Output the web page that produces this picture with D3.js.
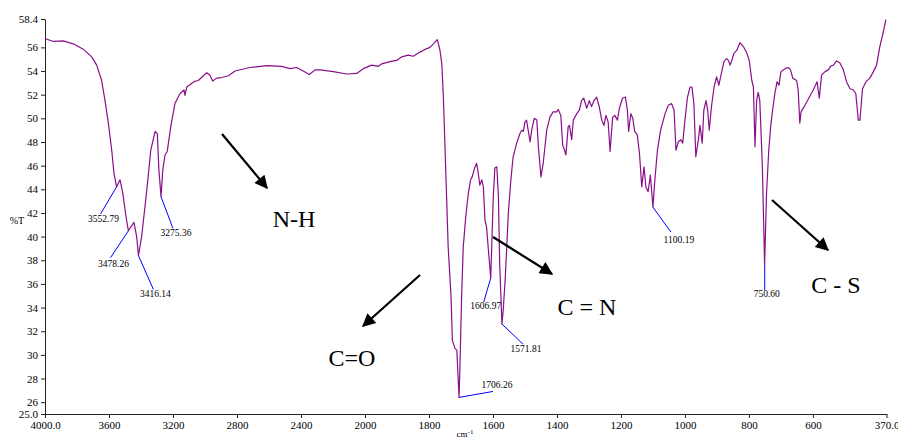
<!DOCTYPE html>
<html>
<head>
<meta charset="utf-8">
<script src="https://cdn.jsdelivr.net/npm/d3@7"></script>
<style>
  body { margin: 0; background: #fff; }
  text { font-family: "Liberation Serif", "Times New Roman", serif; fill: #000; }
</style>
</head>
<body>
<div id="irChart"></div>
<script>
// spectrum: wavenumber (cm-1) and %T
var wavenumbers = [4000, 3948, 3886, 3823, 3761, 3708, 3677, 3646, 3625, 3604, 3583, 3569, 3553, 3531, 3514, 3494, 3479, 3444, 3427, 3416,
  3396, 3364, 3339, 3312, 3298, 3288, 3275, 3264, 3250, 3236, 3214, 3188, 3156, 3131, 3125, 3114, 3069, 3042, 2989, 2969,
  2952, 2927, 2896, 2854, 2812, 2719, 2614, 2521, 2469, 2427, 2386, 2348, 2312, 2281, 2198, 2114, 2052, 2011, 1979, 1958,
  1948, 1922, 1901, 1885, 1865, 1849, 1828, 1807, 1797, 1786, 1774, 1766, 1760, 1755, 1750, 1745, 1740, 1731, 1727, 1719,
  1713, 1706, 1703, 1698, 1693, 1685, 1677, 1670, 1665, 1658, 1651, 1646, 1641, 1635, 1630, 1625, 1620, 1615, 1607, 1604,
  1599, 1594, 1588, 1583, 1579, 1572, 1568, 1562, 1557, 1552, 1544, 1537, 1526, 1516, 1510, 1505, 1500, 1495, 1490, 1484,
  1479, 1471, 1463, 1458, 1450, 1443, 1432, 1422, 1412, 1401, 1396, 1388, 1382, 1378, 1372, 1365, 1361, 1354, 1349, 1338,
  1330, 1323, 1316, 1307, 1299, 1292, 1284, 1276, 1268, 1260, 1253, 1247, 1240, 1234, 1226, 1219, 1211, 1205, 1195, 1186,
  1180, 1176, 1169, 1163, 1157, 1149, 1142, 1135, 1128, 1122, 1115, 1108, 1100, 1094, 1086, 1076, 1062, 1052, 1042, 1034,
  1028, 1021, 1013, 1007, 1000, 992, 984, 978, 972, 966, 958, 953, 946, 941, 934, 929, 924, 917, 909, 901,
  894, 885, 878, 870, 864, 859, 854, 847, 838, 828, 817, 807, 799, 791, 786, 781, 776, 771, 766, 758,
  751, 745, 738, 732, 726, 719, 712, 706, 700, 687, 677, 670, 663, 651, 646, 641, 637, 625, 599, 587,
  580, 573, 562, 552, 545, 536, 526, 516, 505, 495, 484, 474, 466, 458, 453, 445, 434, 422, 411, 401,
  391, 380, 372];

var transmittance = [56.75, 56.5, 56.55, 56.3, 55.85, 55.2, 54.5, 53.2, 51.5, 49.6, 47.3, 45.35, 44.2, 44.8, 43.7, 41.7, 40.5, 41.2, 40.0, 38.4,
  40.0, 43.9, 47.3, 48.9, 48.7, 45.6, 43.4, 45.6, 46.9, 47.2, 49.3, 51.25, 52.1, 52.4, 51.95, 52.65, 53.1, 53.2, 53.85, 53.65,
  53.15, 53.4, 53.45, 53.6, 54.0, 54.3, 54.45, 54.4, 54.2, 54.3, 54.0, 53.7, 54.1, 54.1, 53.95, 53.75, 53.8, 54.2, 54.5, 54.4,
  54.6, 54.8, 54.9, 55.2, 55.35, 55.25, 55.6, 55.9, 56.0, 56.3, 56.65, 55.8, 54.6, 51.8, 47.6, 43.4, 39.1, 34.9, 31.25, 30.55,
  30.4, 26.4, 29.3, 34.9, 39.1, 41.7, 43.65, 44.8, 45.05, 45.75, 46.2, 45.35, 44.35, 44.8, 44.2, 41.4, 40.8, 39.1, 36.5, 39.1,
  43.4, 45.8, 45.9, 43.4, 37.7, 32.6, 33.8, 36.3, 39.1, 42.0, 44.8, 46.75, 47.9, 48.7, 49.0, 48.9, 49.7, 49.85, 49.0, 48.0,
  49.0, 50.0, 49.85, 47.6, 45.05, 46.2, 49.0, 50.1, 50.55, 50.55, 50.75, 50.25, 47.7, 47.45, 46.9, 49.3, 49.4, 48.2, 49.85, 50.4,
  50.7, 51.5, 51.7, 50.85, 51.5, 51.0, 51.5, 51.8, 51.0, 49.85, 49.4, 50.25, 49.7, 47.2, 50.1, 50.25, 49.85, 50.85, 51.7, 51.8,
  50.7, 48.9, 50.4, 50.0, 48.9, 48.6, 47.0, 44.2, 45.9, 44.2, 43.8, 45.2, 42.5, 44.8, 47.3, 49.0, 50.4, 51.1, 51.25, 50.7,
  47.3, 48.0, 48.2, 47.9, 49.85, 51.8, 52.65, 52.65, 51.25, 46.75, 48.2, 49.4, 47.9, 50.7, 51.5, 50.7, 49.0, 51.0, 52.65, 53.5,
  52.8, 53.95, 54.8, 55.05, 54.9, 54.5, 54.85, 55.5, 55.75, 56.4, 56.05, 55.55, 54.9, 53.2, 52.65, 47.6, 51.5, 52.2, 51.5, 45.9,
  37.6, 43.65, 47.3, 49.3, 50.7, 52.1, 53.1, 52.8, 53.95, 54.2, 54.3, 54.1, 53.4, 53.2, 52.4, 49.6, 50.55, 51.1, 52.4, 53.1,
  51.7, 53.65, 53.95, 54.1, 54.4, 54.5, 54.85, 54.7, 54.1, 53.1, 52.5, 52.4, 52.1, 49.85, 49.85, 52.5, 53.1, 53.4, 53.95, 54.5,
  56.05, 57.3, 58.35];

// labelled peaks
var peakWavenumbers = [3552.79, 3478.26, 3416.14, 3275.36, 1706.26, 1606.97, 1571.81, 1100.19, 750.60];
var peakTransmittance = [44.2, 40.5, 38.4, 43.4, 26.4, 36.5, 32.6, 42.5, 37.6];

// group assignments
var groupLabels = ["N-H", "C=O", "C = N", "C - S"];

// axis ticks
var xTickValues = [4000, 3600, 3200, 2800, 2400, 2000, 1800, 1600, 1400, 1200, 1000, 800, 600, 370];
var xTickLabels = ["4000.0", "3600", "3200", "2800", "2400", "2000", "1800", "1600", "1400", "1200", "1000", "800", "600", "370.0"];
var yTickValues = [25, 26, 28, 30, 32, 34, 36, 38, 40, 42, 44, 46, 48, 50, 52, 54, 56, 58.4];
var yTickLabels = ["25.0", "26", "28", "30", "32", "34", "36", "38", "40", "42", "44", "46", "48", "50", "52", "54", "56", "58.4"];

document.addEventListener('DOMContentLoaded', function () {
  drawSpectrum();
});

function drawSpectrum() {
  var width = 898;
  var height = 438;

  var svg = d3.select("#irChart")
              .append("svg")
              .attr("width", width)
              .attr("height", height);

  // the instrument squeezes 4000-2000 to half the scale of the rest
  var x = d3.scaleLinear()
            .domain([4000, 2000, 370])
            .range([45, 365, 886.5]);

  var y = d3.scaleLinear()
            .domain([25, 58.4])
            .range([414, 19]);

  // axes
  var xAxis = svg.append("g")
                 .attr("transform", "translate(0,414)")
                 .call(d3.axisBottom(x)
                   .tickValues(xTickValues)
                   .tickFormat(function (d, i) { return xTickLabels[i]; })
                   .tickSize(4)
                   .tickSizeOuter(0)
                   .tickPadding(3));

  var yAxis = svg.append("g")
                 .attr("transform", "translate(45,0)")
                 .call(d3.axisLeft(y)
                   .tickValues(yTickValues)
                   .tickFormat(function (d, i) { return yTickLabels[i]; })
                   .tickSize(4)
                   .tickSizeOuter(0)
                   .tickPadding(3));

  svg.selectAll(".domain, .tick line").attr("stroke", "#222");
  svg.selectAll(".tick text")
     .style("font-family", "'Liberation Serif', 'Times New Roman', serif")
     .style("font-size", "11px")
     .attr("fill", "#222");

  // axis titles
  svg.append("text")
     .attr("x", 17)
     .attr("y", 224)
     .attr("text-anchor", "middle")
     .style("font-size", "10px")
     .text("%T");

  var xTitle = svg.append("text")
                  .attr("x", 465)
                  .attr("y", 437)
                  .attr("text-anchor", "middle")
                  .style("font-size", "9px")
                  .text("cm");
  xTitle.append("tspan")
        .attr("dy", -3)
        .style("font-size", "7px")
        .text("-1");

  // spectrum
  var points = wavenumbers.map(function (w, i) {
    return {w: w, t: transmittance[i]};
  });

  var line = d3.line()
               .x(function (d) { return x(d.w); })
               .y(function (d) { return y(d.t); });

  svg.append("path")
     .datum(points)
     .attr("d", line)
     .attr("fill", "none")
     .attr("stroke", "#8a0f8a")
     .attr("stroke-width", 1.2)
     .attr("stroke-linejoin", "round");

  // peak labels: leader end offset and text offset from the peak
  var peakLayout = [
    {lx: -16, ly: 27, tx: -13, ty: 35},
    {lx: -18, ly: 27, tx: -15, ty: 36},
    {lx: 15, ly: 34, tx: 17, ty: 41},
    {lx: 12, ly: 32, tx: 15, ty: 40},
    {lx: 34, ly: -6, tx: 38, ty: -9},
    {lx: -7, ly: 24, tx: -5, ty: 31},
    {lx: 21, ly: 20, tx: 24, ty: 28},
    {lx: 18, ly: 25, tx: 26, ty: 36},
    {lx: 0, ly: 25, tx: 2, ty: 32}
  ];

  var peaks = svg.selectAll(".peak")
                 .data(peakWavenumbers)
                 .enter()
                 .append("g")
                 .attr("class", "peak")
                 .attr("transform", function (d, i) {
                   return "translate(" + x(d) + "," + y(peakTransmittance[i]) + ")";
                 });

  peaks.append("line")
       .attr("x1", 0)
       .attr("y1", 0)
       .attr("x2", function (d, i) { return peakLayout[i].lx; })
       .attr("y2", function (d, i) { return peakLayout[i].ly; })
       .attr("stroke", "#0000ff")
       .attr("stroke-width", 1);

  peaks.append("text")
       .attr("x", function (d, i) { return peakLayout[i].tx; })
       .attr("y", function (d, i) { return peakLayout[i].ty; })
       .attr("text-anchor", "middle")
       .style("font-size", "9.5px")
       .attr("fill", "#222")
       .text(function (d) { return d.toFixed(2); });

  // arrows pointing at the group names
  svg.append("defs")
     .append("marker")
     .attr("id", "head")
     .attr("viewBox", "0 0 10 10")
     .attr("refX", 9)
     .attr("refY", 5)
     .attr("markerWidth", 7)
     .attr("markerHeight", 6)
     .attr("markerUnits", "strokeWidth")
     .attr("orient", "auto")
     .append("path")
     .attr("d", "M0,0L10,5L0,10z")
     .attr("fill", "#000");

  var arrowLayout = [
    {x1: 222, y1: 134, x2: 267, y2: 188, tx: 294, ty: 227},
    {x1: 420, y1: 275, x2: 363, y2: 326, tx: 352, ty: 366},
    {x1: 493, y1: 237, x2: 552, y2: 274, tx: 587, ty: 315},
    {x1: 772, y1: 200, x2: 828, y2: 250, tx: 836, ty: 293}
  ];

  svg.selectAll(".arrow")
     .data(arrowLayout)
     .enter()
     .append("line")
     .attr("class", "arrow")
     .attr("x1", function (d) { return d.x1; })
     .attr("y1", function (d) { return d.y1; })
     .attr("x2", function (d) { return d.x2; })
     .attr("y2", function (d) { return d.y2; })
     .attr("stroke", "#000")
     .attr("stroke-width", 2.2)
     .attr("marker-end", "url(#head)");

  svg.selectAll(".group")
     .data(groupLabels)
     .enter()
     .append("text")
     .attr("class", "group")
     .attr("x", function (d, i) { return arrowLayout[i].tx; })
     .attr("y", function (d, i) { return arrowLayout[i].ty; })
     .attr("text-anchor", "middle")
     .style("font-size", "24px")
     .text(function (d) { return d; });
}
</script>
</body>
</html>
